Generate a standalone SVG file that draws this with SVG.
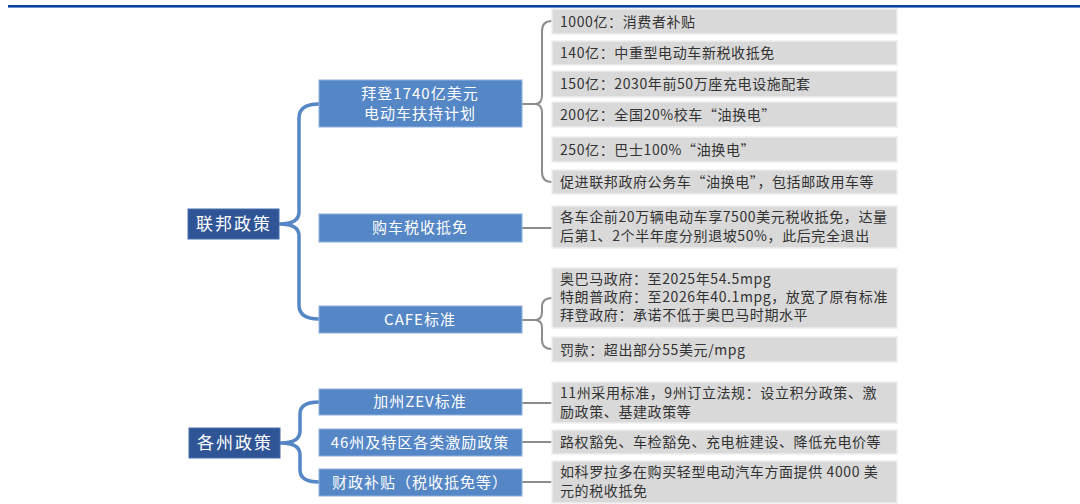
<svg xmlns="http://www.w3.org/2000/svg" width="1080" height="504" viewBox="0 0 1080 504">
<style>
.l1{fill:#2F5597;stroke:#4A6FB0;stroke-width:1}
.l2{fill:#5586C6;stroke:#8DB0DE;stroke-width:1}
.gb{fill:#D9D9D9;stroke:#EEEEEE;stroke-width:1.5}
.t1{font-family:"Noto Sans CJK SC",sans-serif;font-size:17px;fill:#FFFFFF;text-anchor:middle;letter-spacing:2px}
.t2{font-family:"Noto Sans CJK SC",sans-serif;font-size:15px;fill:#FFFFFF;text-anchor:middle;letter-spacing:1px}
.t3{font-family:"Noto Sans CJK SC",sans-serif;font-size:14px;fill:#333333;letter-spacing:0.6px}
.cb{fill:none;stroke:#5586C6;stroke-width:3.5;stroke-linecap:round}
.cg{fill:none;stroke:#8C8C8C;stroke-width:2}
</style>
<rect x="8" y="5" width="1072" height="2.6" fill="#0B439C"/>
<g id="connectors">
<path class="cb" d="M319,104 Q299,104 299,118 L299,212 Q299,224 280,224 M280,224 Q299,224 299,236 L299,305 Q299,319 319,319"/>
<path class="cb" d="M319,402 Q300,402 300,414 L300,431 Q300,443 281,443 M281,443 Q300,443 300,455 L300,470 Q300,482 319,482"/>
<path class="cg" d="M552,21 Q542,21 542,31 L542,95 Q542,104 535,104 L522,104 M535,104 Q542,104 542,113 L542,172 Q542,182 552,182"/>
<path class="cg" d="M522,228 L552,228"/>
<path class="cg" d="M552,298 Q542,298 542,307 L542,312 Q542,320 535,320 L522,320 M535,320 Q542,320 542,328 L542,340 Q542,349 552,349"/>
<path class="cg" d="M522,403 L552,403"/>
<path class="cg" d="M522,442 L552,442"/>
<path class="cg" d="M522,482 L552,482"/>
</g>
<g id="n-federal"><rect class="l1" x="188" y="209" width="91" height="30"/><text class="t1" x="234" y="230">联邦政策</text></g>
<g id="n-state"><rect class="l1" x="189" y="428" width="91" height="30"/><text class="t1" x="235" y="449">各州政策</text></g>
<g id="n-biden"><rect class="l2" x="319" y="80" width="203" height="47"/><text class="t2" x="420" y="99">拜登1740亿美元</text><text class="t2" x="420" y="119">电动车扶持计划</text></g>
<g id="n-purchase"><rect class="l2" x="319" y="214" width="203" height="28"/><text class="t2" x="420" y="233">购车税收抵免</text></g>
<g id="n-cafe"><rect class="l2" x="319" y="306" width="203" height="27"/><text class="t2" x="420" y="325">CAFE标准</text></g>
<g id="n-zev"><rect class="l2" x="319" y="389" width="203" height="26"/><text class="t2" x="420" y="407">加州ZEV标准</text></g>
<g id="n-46"><rect class="l2" x="319" y="429" width="203" height="27"/><text class="t2" x="420" y="448">46州及特区各类激励政策</text></g>
<g id="n-fiscal"><rect class="l2" x="319" y="469" width="203" height="27"/><text class="t2" x="420" y="488">财政补贴（税收抵免等）</text></g>
<g id="g1"><rect class="gb" x="552" y="9" width="345" height="25"/><text class="t3" x="560" y="27">1000亿：消费者补贴</text></g>
<g id="g2"><rect class="gb" x="552" y="41" width="345" height="24"/><text class="t3" x="560" y="58">140亿：中重型电动车新税收抵免</text></g>
<g id="g3"><rect class="gb" x="552" y="71" width="345" height="26"/><text class="t3" x="560" y="89">150亿：2030年前50万座充电设施配套</text></g>
<g id="g4"><rect class="gb" x="552" y="102" width="345" height="25"/><text class="t3" x="560" y="120">200亿：全国20%校车“油换电”</text></g>
<g id="g5"><rect class="gb" x="552" y="137" width="345" height="25"/><text class="t3" x="560" y="155">250亿：巴士100%“油换电”</text></g>
<g id="g6"><rect class="gb" x="552" y="170" width="345" height="24"/><text class="t3" x="560" y="187">促进联邦政府公务车“油换电”，包括邮政用车等</text></g>
<g id="g7"><rect class="gb" x="552" y="206" width="345" height="42"/><text class="t3" x="560" y="222">各车企前20万辆电动车享7500美元税收抵免，达量</text><text class="t3" x="560" y="241">后第1、2个半年度分别退坡50%，此后完全退出</text></g>
<g id="g8"><rect class="gb" x="552" y="268" width="345" height="60"/><text class="t3" x="560" y="284">奥巴马政府：至2025年54.5mpg</text><text class="t3" x="560" y="302">特朗普政府：至2026年40.1mpg，放宽了原有标准</text><text class="t3" x="560" y="320">拜登政府：承诺不低于奥巴马时期水平</text></g>
<g id="g9"><rect class="gb" x="552" y="337" width="345" height="25"/><text class="t3" x="560" y="355">罚款：超出部分55美元/mpg</text></g>
<g id="g10"><rect class="gb" x="552" y="382" width="345" height="41"/><text class="t3" x="560" y="398">11州采用标准，9州订立法规：设立积分政策、激</text><text class="t3" x="560" y="417">励政策、基建政策等</text></g>
<g id="g11"><rect class="gb" x="552" y="430" width="345" height="24"/><text class="t3" x="560" y="447">路权豁免、车检豁免、充电桩建设、降低充电价等</text></g>
<g id="g12"><rect class="gb" x="552" y="461" width="345" height="42"/><text class="t3" x="560" y="477">如科罗拉多在购买轻型电动汽车方面提供 4000 美</text><text class="t3" x="560" y="496">元的税收抵免</text></g>
</svg>
